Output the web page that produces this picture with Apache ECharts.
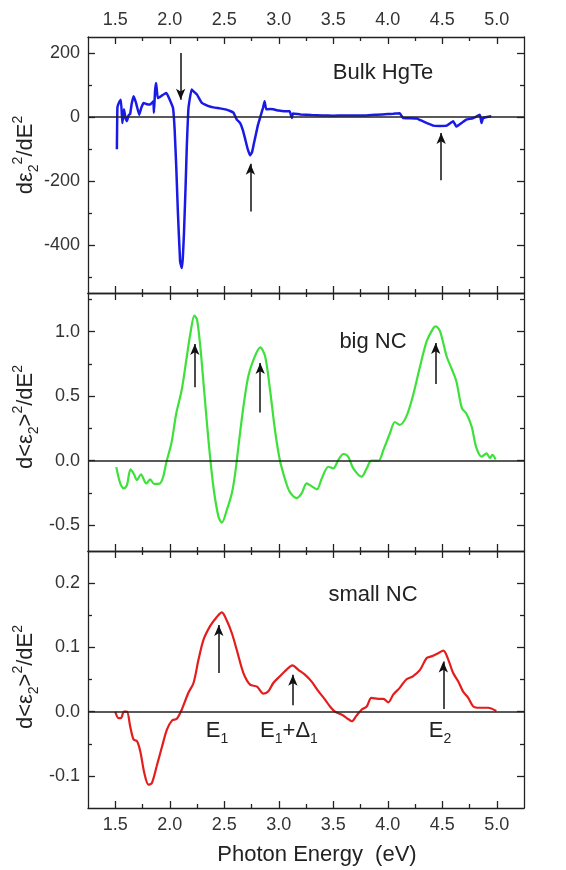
<!DOCTYPE html>
<html>
<head>
<meta charset="utf-8">
<script src="https://cdn.jsdelivr.net/npm/echarts@6/dist/echarts.min.js"></script>
<style>
  html, body { margin: 0; padding: 0; background: #fff; }
  #main { width: 566px; height: 870px; }
</style>
</head>
<body>
<div id="main"></div>
<script>
// photon energy ticks (eV)
const xMajor = [1.5, 2.0, 2.5, 3.0, 3.5, 4.0, 4.5, 5.0];
const xMinor = [1.75, 2.25, 2.75, 3.25, 3.75, 4.25, 4.75];

// Bulk HgTe
const bulkE = [1.515, 1.52, 1.535, 1.552, 1.565, 1.58, 1.595, 1.607, 1.622, 1.637, 1.65, 1.668, 1.69, 1.72, 1.74, 1.76, 1.79, 1.82, 1.84, 1.85, 1.855, 1.865, 1.875, 1.89, 1.92, 1.95, 1.97, 2.00, 2.03, 2.045, 2.06, 2.075, 2.095, 2.11, 2.12, 2.13, 2.145, 2.157, 2.17, 2.18, 2.20, 2.225, 2.25, 2.295, 2.35, 2.40, 2.46, 2.52, 2.56, 2.585, 2.615, 2.646, 2.67, 2.69, 2.715, 2.737, 2.755, 2.77, 2.79, 2.81, 2.835, 2.855, 2.87, 2.885, 2.92, 2.95, 3.0, 3.05, 3.10, 3.12, 3.13, 3.2, 3.3, 3.4, 3.5, 3.6, 3.7, 3.8, 3.9, 4.0, 4.05, 4.11, 4.14, 4.2, 4.265, 4.3, 4.36, 4.42, 4.48, 4.54, 4.6, 4.63, 4.68, 4.72, 4.78, 4.845, 4.86, 4.875, 4.91, 4.95];
const bulkD = [-101, 30, 45, 54, -19, 24, -5, -13, 5, 10, 40, 65, 45, 7, 30, 44, 40, 39, 45, 49, 13, 80, 106, 59, 65, 72, 75, 54, 28, -40, -159, -300, -451, -472, -440, -367, -220, -86, 20, 49, 86, 78, 70, 44, 35, 30, 27, 23, 18, 13, -8, -19, -40, -66, -100, -120, -110, -86, -55, -24, 5, 28, 49, 24, 25, 24, 20, 18, 18, -3, 11, 8, 6, 5, 4, 5, 5, 5, 7, 9, 10, 12, -3, -4, -5, -10, -19, -27, -28, -27, -13, -30, -18, -8, -4, 7, -19, -3, 0, 2];
const bulkArrows = [[2.10, 200, 54], [2.74, -295, -146], [4.49, -198, -50]];

// big NC
const bigE = [1.51, 1.546, 1.58, 1.607, 1.64, 1.668, 1.70, 1.735, 1.785, 1.82, 1.857, 1.91, 1.94, 1.97, 2.015, 2.06, 2.11, 2.157, 2.19, 2.226, 2.25, 2.28, 2.315, 2.355, 2.40, 2.447, 2.478, 2.523, 2.57, 2.60, 2.63, 2.676, 2.72, 2.767, 2.83, 2.875, 2.92, 2.965, 3.01, 3.06, 3.10, 3.165, 3.21, 3.256, 3.30, 3.35, 3.395, 3.455, 3.50, 3.546, 3.593, 3.637, 3.684, 3.76, 3.807, 3.85, 3.915, 3.96, 4.02, 4.066, 4.11, 4.17, 4.23, 4.296, 4.357, 4.42, 4.44, 4.48, 4.54, 4.59, 4.63, 4.68, 4.72, 4.77, 4.81, 4.86, 4.907, 4.937, 4.96, 4.99];
const bigD = [-0.05, -0.176, -0.215, -0.19, -0.067, -0.098, -0.15, -0.106, -0.176, -0.145, -0.18, -0.176, -0.124, -0.008, 0.135, 0.368, 0.55, 0.81, 0.99, 1.125, 1.094, 0.886, 0.55, 0.16, -0.2, -0.435, -0.48, -0.383, -0.25, -0.1, 0.11, 0.42, 0.653, 0.78, 0.879, 0.81, 0.55, 0.24, 0.005, -0.15, -0.24, -0.29, -0.254, -0.176, -0.197, -0.222, -0.137, -0.047, -0.06, 0.005, 0.052, 0.031, -0.06, -0.124, -0.06, 0, 0, 0.083, 0.213, 0.30, 0.278, 0.342, 0.50, 0.73, 0.925, 1.03, 1.042, 1.003, 0.81, 0.705, 0.614, 0.407, 0.368, 0.264, 0.109, 0.031, 0.057, 0.02, 0.045, 0.01];
const bigArrows = [[2.23, 0.57, 0.905], [2.83, 0.373, 0.757], [4.44, 0.594, 0.913]];

// small NC
const smallE = [1.50, 1.53, 1.552, 1.58, 1.607, 1.637, 1.668, 1.70, 1.73, 1.766, 1.805, 1.836, 1.88, 1.93, 1.974, 2.02, 2.065, 2.11, 2.17, 2.218, 2.264, 2.31, 2.37, 2.43, 2.478, 2.52, 2.57, 2.615, 2.676, 2.737, 2.80, 2.86, 2.905, 2.95, 3.01, 3.07, 3.125, 3.18, 3.24, 3.30, 3.365, 3.425, 3.47, 3.516, 3.58, 3.624, 3.67, 3.71, 3.76, 3.807, 3.85, 3.915, 3.96, 4.005, 4.05, 4.11, 4.17, 4.23, 4.296, 4.357, 4.40, 4.463, 4.51, 4.555, 4.60, 4.647, 4.69, 4.74, 4.785, 4.845, 4.92, 4.996];
const smallD = [0, -0.01, -0.01, 0, 0, -0.023, -0.0435, -0.046, -0.062, -0.095, -0.1135, -0.111, -0.085, -0.054, -0.028, -0.014, -0.011, 0.003, 0.029, 0.0446, 0.081, 0.112, 0.133, 0.147, 0.1545, 0.143, 0.122, 0.096, 0.06, 0.042, 0.039, 0.028, 0.0316, 0.0446, 0.055, 0.065, 0.072, 0.065, 0.0575, 0.047, 0.0316, 0.0187, 0.008, 0, -0.005, -0.01, -0.015, -0.007, 0.003, 0.008, 0.0213, 0.02, 0.02, 0.0145, 0.0264, 0.037, 0.05, 0.055, 0.065, 0.0835, 0.086, 0.091, 0.095, 0.081, 0.06, 0.047, 0.0316, 0.021, 0.008, 0.006, 0.006, 0.001];
const smallArrows = [[2.45, 0.06, 0.135], [3.13, 0.01, 0.0575], [4.51, 0.004, 0.078]];

// y ticks per panel
const bulkMajor = [-400, -200, 0, 200], bulkMinor = [-500, -300, -100, 100];
const bigMajor = [-0.5, 0, 0.5, 1.0], bigMinor = [-0.25, 0.25, 0.75, 1.25];
const smallMajor = [-0.1, 0, 0.1, 0.2], smallMinor = [-0.05, 0.05, 0.15];

const font = 'Liberation Sans, Arial, sans-serif';
const ink = '#222';

const panels = [
  { e: bulkE, d: bulkD, arrows: bulkArrows, major: bulkMajor, minor: bulkMinor, min: -550, max: 250, dec: 0, color: '#1a1ae6', width: 2.5, top: 37, height: 256 },
  { e: bigE, d: bigD, arrows: bigArrows, major: bigMajor, minor: bigMinor, min: -0.7, max: 1.3, dec: 1, color: '#3ee03a', width: 2.2, top: 293, height: 258 },
  { e: smallE, d: smallD, arrows: smallArrows, major: smallMajor, minor: smallMinor, min: -0.15, max: 0.25, dec: 1, color: '#e41c1c', width: 2.2, top: 551, height: 257 }
];

const grid = [], xAxis = [], yAxis = [], series = [];

panels.forEach((p, i) => {
  grid.push({ left: 88, width: 436, top: p.top, height: p.height });

  ['bottom', 'top'].forEach(pos => {
    [[xMajor, 7], [xMinor, 4]].forEach(([vals, len], k) => {
      const showLabel = k === 0 && ((pos === 'top' && i === 0) || (pos === 'bottom' && i === 2));
      xAxis.push({
        type: 'value', gridIndex: i, position: pos, min: 1.25, max: 5.25,
        axisLine: { show: k === 0, onZero: false, lineStyle: { color: ink, width: 1.3 } },
        axisTick: { show: true, inside: true, length: len, customValues: vals, lineStyle: { color: ink, width: 1.3 } },
        axisLabel: { show: showLabel, customValues: vals, margin: 8, color: '#333', fontSize: 18, fontFamily: font, formatter: v => v.toFixed(1) },
        splitLine: { show: false }
      });
    });
  });

  ['left', 'right'].forEach(pos => {
    [[p.major, 7], [p.minor, 4]].forEach(([vals, len], k) => {
      yAxis.push({
        type: 'value', gridIndex: i, position: pos, min: p.min, max: p.max,
        axisLine: { show: k === 0, onZero: false, lineStyle: { color: ink, width: 1.3 } },
        axisTick: { show: true, inside: true, length: len, customValues: vals, lineStyle: { color: ink, width: 1.3 } },
        axisLabel: { show: k === 0 && pos === 'left', customValues: vals, margin: 8, color: '#333', fontSize: 18, fontFamily: font, formatter: v => v.toFixed(p.dec) },
        splitLine: { show: false }
      });
    });
  });

  // zero line plus the arrows marking the transitions
  const marks = [{ yAxis: 0, lineStyle: { color: ink, width: 1.5, type: 'solid' } }];
  p.arrows.forEach(a => {
    marks.push([{ coord: [a[0], a[1]] }, { coord: [a[0], a[2]], symbol: 'arrow', symbolSize: [7, 11] }]);
  });

  series.push({
    type: 'line', xAxisIndex: i * 4, yAxisIndex: i * 4,
    data: p.e.map((x, j) => [x, p.d[j]]),
    showSymbol: false, symbol: 'none', smooth: i === 0 ? 0.1 : 0.3,
    lineStyle: { color: p.color, width: p.width },
    markLine: {
      silent: true, animation: false,
      symbol: 'none',
      label: { show: false },
      emphasis: { disabled: true },
      lineStyle: { color: '#111', width: 1.5, type: 'solid' },
      data: marks
    }
  });
});

const sub = { fontSize: 14, fontFamily: font, fill: '#222', lineHeight: 12, verticalAlign: 'bottom' };
const sup = { fontSize: 14, fontFamily: font, fill: '#222', lineHeight: 18, verticalAlign: 'top' };
const main = { fontSize: 22, fontFamily: font, fill: '#222', lineHeight: 30 };
const rich = { m: main, b: sub, p: sup };

function label(x, y, text, opts) {
  return Object.assign({
    type: 'text', x: x, y: y,
    style: { text: text, rich: rich, font: '22px ' + font, fill: '#222', align: 'center', verticalAlign: 'middle', textAlign: 'center', textVerticalAlign: 'middle' }
  }, opts || {});
}

const graphic = [
  label(383, 73, 'Bulk HgTe'),
  label(373, 342, 'big NC'),
  label(373, 595, 'small NC'),
  label(217, 731, '{m|E}{b|1}'),
  label(289, 731, '{m|E}{b|1}{m|+Δ}{b|1}'),
  label(440, 731, '{m|E}{b|2}'),
  label(317, 855, 'Photon Energy  (eV)'),
  label(26, 155, '{m|dε}{b|2}{p|2}{m|/dE}{p|2}', { rotation: Math.PI / 2 }),
  label(26, 417, '{m|d<ε}{b|2}{m|>}{p|2}{m|/dE}{p|2}', { rotation: Math.PI / 2 }),
  label(26, 677, '{m|d<ε}{b|2}{m|>}{p|2}{m|/dE}{p|2}', { rotation: Math.PI / 2 })
];

const chart = echarts.init(document.getElementById('main'), null, { renderer: 'canvas' });
chart.setOption({
  animation: false,
  backgroundColor: '#fff',
  grid: grid,
  xAxis: xAxis,
  yAxis: yAxis,
  series: series,
  graphic: graphic
});
</script>
</body>
</html>
